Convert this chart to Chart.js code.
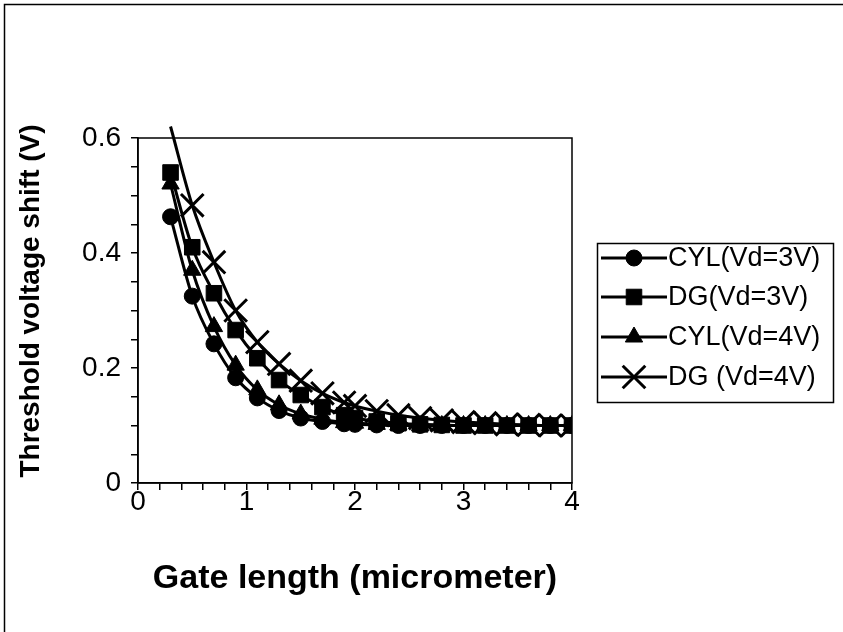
<!DOCTYPE html>
<html>
<head>
<meta charset="utf-8">
<script src="https://cdn.jsdelivr.net/npm/chart.js@4/dist/chart.umd.min.js"></script>
<style>
  html, body { margin: 0; padding: 0; background: #fff; }
  #wrap { width: 843px; height: 632px; }
</style>
</head>
<body>
<div id="wrap"><canvas id="c" width="843" height="632"></canvas></div>
<script>
// Gate length (micrometer)
const gateLength = [0.3, 0.5, 0.7, 0.9, 1.1, 1.3, 1.5, 1.7, 1.9, 2.0, 2.2, 2.4, 2.6, 2.8, 3.0, 3.2, 3.4, 3.6, 3.8, 4.0];

// Threshold voltage shift (V)
const cylVd3 = [0.463, 0.325, 0.242, 0.183, 0.148, 0.126, 0.113, 0.107, 0.103, 0.102, 0.101, 0.100, 0.100, 0.100, 0.100, 0.100, 0.100, 0.100, 0.100, 0.100];
const dgVd3  = [0.540, 0.410, 0.330, 0.266, 0.217, 0.179, 0.153, 0.132, 0.118, 0.113, 0.107, 0.104, 0.102, 0.101, 0.100, 0.100, 0.100, 0.100, 0.100, 0.100];
const cylVd4 = [0.520, 0.370, 0.272, 0.205, 0.162, 0.136, 0.120, 0.111, 0.105, 0.104, 0.102, 0.101, 0.100, 0.100, 0.100, 0.100, 0.100, 0.100, 0.100, 0.100];
const dgVd4  = [0.620, 0.483, 0.384, 0.300, 0.245, 0.207, 0.178, 0.156, 0.140, 0.134, 0.125, 0.118, 0.113, 0.109, 0.106, 0.104, 0.102, 0.101, 0.100, 0.100];

const seriesNames = ['CYL(Vd=3V)', 'DG(Vd=3V)', 'CYL(Vd=4V)', 'DG (Vd=4V)'];
const yTickLabels = ['0', '0.2', '0.4', '0.6'];
const xTickLabels = ['0', '1', '2', '3', '4'];
const xTitle = 'Gate length (micrometer)';
const yTitle = 'Threshold voltage shift (V)';

const FONT = '"Liberation Sans", Arial, sans-serif';
const Y_MAX = 0.6;

function toPoints(ys) {
  return gateLength.map((x, i) => ({ x: x, y: ys[i] }));
}

function labelFor(list, value) {
  const hit = list.find(l => Math.abs(Number(l) - value) < 1e-6);
  return hit === undefined ? '' : hit;
}

const markerStyles = [
  { pointStyle: 'circle',   radius: 8,  borderWidth: 1 },
  { pointStyle: 'rect',     radius: 11, borderWidth: 1 },
  { pointStyle: 'triangle', radius: 10, borderWidth: 1 },
  { pointStyle: 'crossRot', radius: 16, borderWidth: 3 }
];
const seriesValues = [cylVd3, dgVd3, cylVd4, dgVd4];

const datasets = seriesValues.map((vals, i) => {
  const m = markerStyles[i];
  return {
    label: seriesNames[i],
    data: toPoints(vals),
    borderColor: '#000',
    backgroundColor: '#000',
    borderWidth: 3,
    cubicInterpolationMode: 'monotone',
    pointStyle: m.pointStyle,
    pointRadius: ctx => (ctx.parsed && ctx.parsed.y > Y_MAX + 1e-9) ? 0 : m.radius,
    pointBackgroundColor: '#000',
    pointBorderColor: '#000',
    pointBorderWidth: m.borderWidth,
    order: 3 - i,
    clip: { left: 0, top: false, right: 0, bottom: 0 }
  };
});

// Frame, axis titles and the boxed legend
const decorations = {
  id: 'decorations',
  afterDraw(chart) {
    const ctx = chart.ctx;
    const a = chart.chartArea;
    ctx.save();

    // page frame (left and top edges)
    ctx.strokeStyle = '#000';
    ctx.lineWidth = 1.5;
    ctx.beginPath();
    ctx.moveTo(4.5, 632);
    ctx.lineTo(4.5, 4.5);
    ctx.lineTo(843, 4.5);
    ctx.stroke();

    // plot box
    ctx.lineWidth = 1.5;
    ctx.strokeRect(a.left, a.top, a.right - a.left, a.bottom - a.top);

    // axis titles
    ctx.fillStyle = '#000';
    ctx.textAlign = 'center';
    ctx.textBaseline = 'middle';
    ctx.font = 'bold 34px ' + FONT;
    ctx.fillText(xTitle, 355, 579);

    ctx.save();
    ctx.translate(31, 301);
    ctx.rotate(-Math.PI / 2);
    ctx.font = 'bold 28px ' + FONT;
    ctx.fillText(yTitle, 0, 0);
    ctx.restore();

    // legend
    const box = { x: 597.5, y: 243.5, w: 236, h: 159 };
    ctx.lineWidth = 1.5;
    ctx.strokeRect(box.x, box.y, box.w, box.h);
    const rows = [258, 297, 337, 377];
    ctx.font = '27px ' + FONT;
    ctx.textAlign = 'left';
    ctx.textBaseline = 'middle';
    chart.data.datasets.forEach((ds, i) => {
      const y = rows[i];
      ctx.strokeStyle = '#000';
      ctx.lineWidth = 3;
      ctx.beginPath();
      ctx.moveTo(601, y);
      ctx.lineTo(667, y);
      ctx.stroke();
      const m = markerStyles[i];
      ctx.fillStyle = '#000';
      ctx.lineWidth = m.borderWidth;
      Chart.helpers.drawPoint(ctx, {
        pointStyle: m.pointStyle,
        radius: m.radius,
        borderWidth: m.borderWidth,
        rotation: 0
      }, 634, y);
      ctx.fillStyle = '#000';
      ctx.fillText(ds.label, 668, y + 1);
    });

    ctx.restore();
  }
};

new Chart(document.getElementById('c'), {
  type: 'line',
  data: { datasets: datasets },
  options: {
    responsive: false,
    animation: false,
    devicePixelRatio: 1,
    layout: { padding: { left: 0, top: 138, right: 271, bottom: 0 } },
    plugins: { legend: { display: false }, tooltip: { enabled: false } },
    scales: {
      x: {
        type: 'linear',
        min: 0,
        max: 4,
        afterFit: s => { s.height = 149; },
        ticks: {
          stepSize: 0.2,
          autoSkip: false,
          maxRotation: 0,
          padding: -5,
          color: '#000',
          font: { family: FONT, size: 28 },
          callback: v => labelFor(xTickLabels, v)
        },
        grid: { drawOnChartArea: false, drawTicks: true, tickLength: 7, color: '#000', lineWidth: 1.5 },
        border: { color: '#000', width: 1.5 }
      },
      y: {
        type: 'linear',
        min: 0,
        max: Y_MAX,
        afterFit: s => { s.width = 138; },
        ticks: {
          stepSize: 0.05,
          autoSkip: false,
          padding: 10,
          color: '#000',
          font: { family: FONT, size: 28 },
          callback: v => labelFor(yTickLabels, v)
        },
        grid: { drawOnChartArea: false, drawTicks: true, tickLength: 7, color: '#000', lineWidth: 1.5 },
        border: { color: '#000', width: 1.5 }
      }
    }
  },
  plugins: [decorations]
});
</script>
</body>
</html>
